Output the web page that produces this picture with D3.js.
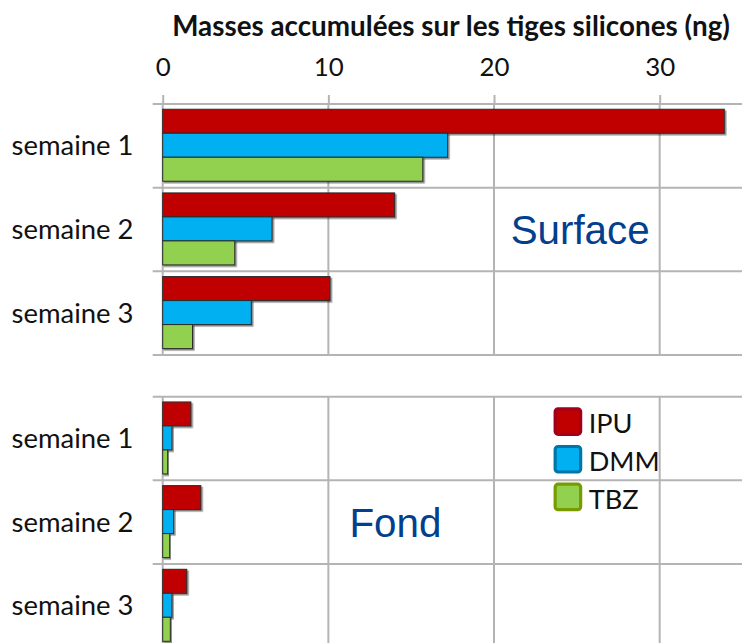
<!DOCTYPE html>
<html><head><meta charset="utf-8">
<script src="https://cdn.jsdelivr.net/npm/d3@7"></script>
<style>body{margin:0;background:#fff}</style>
</head><body><svg id="c" width="742" height="643"></svg>
<script>
// ---- data ----
const categories = ["semaine 1", "semaine 2", "semaine 3"];
const panels = ["Surface", "Fond"];
const seriesNames = ["IPU", "DMM", "TBZ"];
const surfaceIPU = [33.9, 14.0, 10.1];
const surfaceDMM = [17.2, 6.6, 5.35];
const surfaceTBZ = [15.7, 4.35, 1.8];
const fondIPU = [1.7, 2.3, 1.45];
const fondDMM = [0.56, 0.66, 0.56];
const fondTBZ = [0.3, 0.42, 0.46];
const xTicks = [0, 10, 20, 30];
const title = "Masses accumulées sur les tiges silicones (ng)";

// ---- style ----
const fills = ["#C00000", "#00B0F0", "#92D050"];
const legendBorders = ["#A0001C", "#0076A6", "#7A9A01"];
const gridColor = "#b4b4b4";
const labelFont = "Lato, 'Open Sans', sans-serif";
const annFont = "'Liberation Sans', Arial, sans-serif";
const annColor = "#023f8e";

const panelData = [
  { name: panels[0], series: [surfaceIPU, surfaceDMM, surfaceTBZ], range: [104, 355] },
  { name: panels[1], series: [fondIPU, fondDMM, fondTBZ], range: [396.7, 647.7] }
];

const svg = d3.select("#c");
const defs = svg.append("defs");
const f = defs.append("filter").attr("id", "sh").attr("x", "-5%").attr("y", "-20%").attr("width", "120%").attr("height", "160%");
f.append("feDropShadow").attr("dx", 1.6).attr("dy", 1.6).attr("stdDeviation", 0.7)
  .attr("flood-color", "#000").attr("flood-opacity", 0.45);

const x = d3.scaleLinear().domain([0, 35]).range([162.7, 742.5]);
const leftExt = 10;

function fit(sel, target) {
  const w = sel.node().getComputedTextLength();
  const fs = parseFloat(sel.attr("font-size"));
  const nfs = fs * target / w;
  sel.attr("font-size", nfs);
  return nfs;
}

// title
const t = svg.append("text").attr("x", (x.range()[0] + x.range()[1]) / 2 - 1.5).attr("y", 35.7)
  .attr("text-anchor", "middle").attr("font-family", labelFont).attr("font-weight", "bold")
  .attr("font-size", 22).attr("fill", "#111").text(title);
fit(t, 558);

// top axis
const axisG = svg.append("g").attr("transform", `translate(0,${panelData[0].range[0]})`)
  .call(d3.axisTop(x).tickValues(xTicks).tickSize(9).tickPadding(19).tickFormat(d3.format("d")));
axisG.select(".domain").remove();
axisG.selectAll(".tick line").attr("stroke", gridColor).attr("stroke-width", 2);
axisG.selectAll(".tick text").attr("font-family", labelFont).attr("font-size", 22).attr("fill", "#111");
const tickFs = fit(axisG.selectAll(".tick text").filter(d => d === 30), 30);
axisG.selectAll(".tick text").attr("font-size", tickFs);

let catFs = null;
panelData.forEach((p, pi) => {
  const y = d3.scaleBand().domain(categories).range(p.range).paddingInner(0).paddingOuter(0);
  const inner = d3.scaleBand().domain(seriesNames).range([0, y.bandwidth()]).paddingInner(0).paddingOuter(0.243).align(0.45);
  const g = svg.append("g");
  // horizontal grid lines (band edges + bottom)
  const edges = categories.map(c => y(c)).concat([p.range[1]]);
  g.selectAll("line.h").data(edges).join("line")
    .attr("x1", x.range()[0] - leftExt).attr("x2", x.range()[1])
    .attr("y1", d => d).attr("y2", d => d)
    .attr("stroke", gridColor).attr("stroke-width", 2);
  // vertical grid lines
  g.selectAll("line.v").data(xTicks).join("line")
    .attr("x1", d => x(d)).attr("x2", d => x(d))
    .attr("y1", p.range[0]).attr("y2", p.range[1])
    .attr("stroke", gridColor).attr("stroke-width", 2);
  // bars
  const rows = [];
  categories.forEach((c, ci) => seriesNames.forEach((s, si) => rows.push({ c, s, si, v: p.series[si][ci] })));
  g.selectAll("rect.bar").data(rows).join("rect")
    .attr("x", x(0)).attr("y", d => y(d.c) + inner(d.s))
    .attr("width", d => x(d.v) - x(0)).attr("height", inner.bandwidth())
    .attr("fill", d => fills[d.si]).attr("stroke", "#2a2a2a").attr("stroke-width", 1)
    .attr("filter", "url(#sh)");
  // category labels
  const labs = g.selectAll("text.cat").data(categories).join("text")
    .attr("x", 133.5).attr("y", d => y(d) + y.bandwidth() / 2 + 9.4)
    .attr("text-anchor", "end").attr("font-family", labelFont).attr("font-size", 26)
    .attr("fill", "#111").text(d => d);
  if (catFs === null) catFs = fit(labs.filter((d, i) => i === 0), 122);
  labs.attr("font-size", catFs);
  // panel annotation
  const ann = g.append("text").attr("font-family", annFont).attr("font-size", 40).attr("fill", annColor)
    .attr("text-anchor", "middle").text(p.name);
  if (pi === 0) {
    ann.attr("x", x(25.2)).attr("y", y(categories[1]) + y.bandwidth() / 2 + 14.5);
    fit(ann, 139);
  } else {
    ann.attr("x", x(14.05)).attr("y", y(categories[1]) + y.bandwidth() / 2 + 14.4);
    fit(ann, 92);
  }
  // legend in bottom panel
  if (pi === 1) {
    const lg = g.append("g");
    const step = 37.7, top = p.range[0] + 10.6, sq = 27;
    const items = lg.selectAll("g").data(seriesNames).join("g")
      .attr("transform", (d, i) => `translate(${x(23.6) + 1.5},${top + i * step + 1.5})`);
    items.append("rect").attr("width", sq - 1.5).attr("height", sq - 1.5).attr("rx", 3)
      .attr("fill", (d, i) => fills[i]).attr("stroke", (d, i) => legendBorders[i]).attr("stroke-width", 3.2);
    const lt = items.append("text").attr("x", 33.5).attr("y", 24.5)
      .attr("font-family", labelFont).attr("font-size", 26).attr("fill", "#111").text(d => d);
    const lfs = fit(lt.filter(d => d === "DMM"), 71);
    lt.attr("font-size", lfs);
  }
});
</script>
</body></html>
